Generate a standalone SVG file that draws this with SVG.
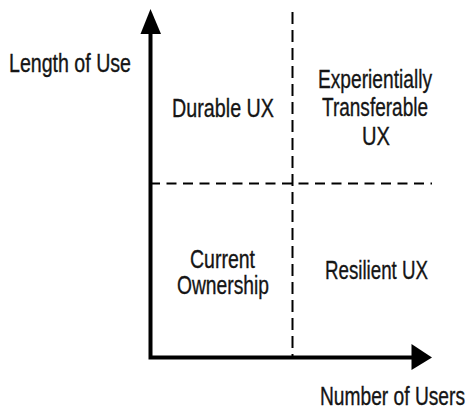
<svg xmlns="http://www.w3.org/2000/svg" width="472" height="418" viewBox="0 0 472 418">
<style>
text{font-family:"Liberation Sans",Arial,sans-serif;font-size:25.5px;fill:#151515;stroke:#151515;stroke-width:0.35}
.axis{stroke:#000;stroke-width:4;fill:none}
.dash{stroke:#000;stroke-width:2;fill:none;stroke-dasharray:10,6.5}
</style>
<rect width="472" height="418" fill="#fff"/>
<g id="connectors">
<line class="dash" x1="150" y1="183.5" x2="432" y2="183.5"/>
<line class="dash" x1="292.5" y1="12" x2="292.5" y2="357" style="stroke-dasharray:12,6"/>
<polyline class="axis" points="150.5,30 150.5,357.5 414,357.5"/>
<polygon points="150.5,9 140.5,34 161,34" fill="#000"/>
<polygon points="432,357.5 411.5,344 411.5,370" fill="#000"/>
</g>
<g id="y-axis-label"><text x="9" y="72" textLength="122" lengthAdjust="spacingAndGlyphs">Length of Use</text></g>
<g id="x-axis-label"><text x="320" y="405" textLength="145" lengthAdjust="spacingAndGlyphs" style="font-size:25px">Number of Users</text></g>
<g id="durable"><text x="172" y="117" textLength="102" lengthAdjust="spacingAndGlyphs">Durable UX</text></g>
<g id="experientially">
<text x="318" y="88" textLength="114" lengthAdjust="spacingAndGlyphs">Experientially</text>
<text x="322" y="116" textLength="106" lengthAdjust="spacingAndGlyphs">Transferable</text>
<text x="362" y="145" textLength="28" lengthAdjust="spacingAndGlyphs">UX</text>
</g>
<g id="current">
<text x="190" y="267.5" textLength="65" lengthAdjust="spacingAndGlyphs">Current</text>
<text x="177" y="293.5" textLength="92" lengthAdjust="spacingAndGlyphs">Ownership</text>
</g>
<g id="resilient"><text x="325" y="279" textLength="103" lengthAdjust="spacingAndGlyphs">Resilient UX</text></g>
</svg>
